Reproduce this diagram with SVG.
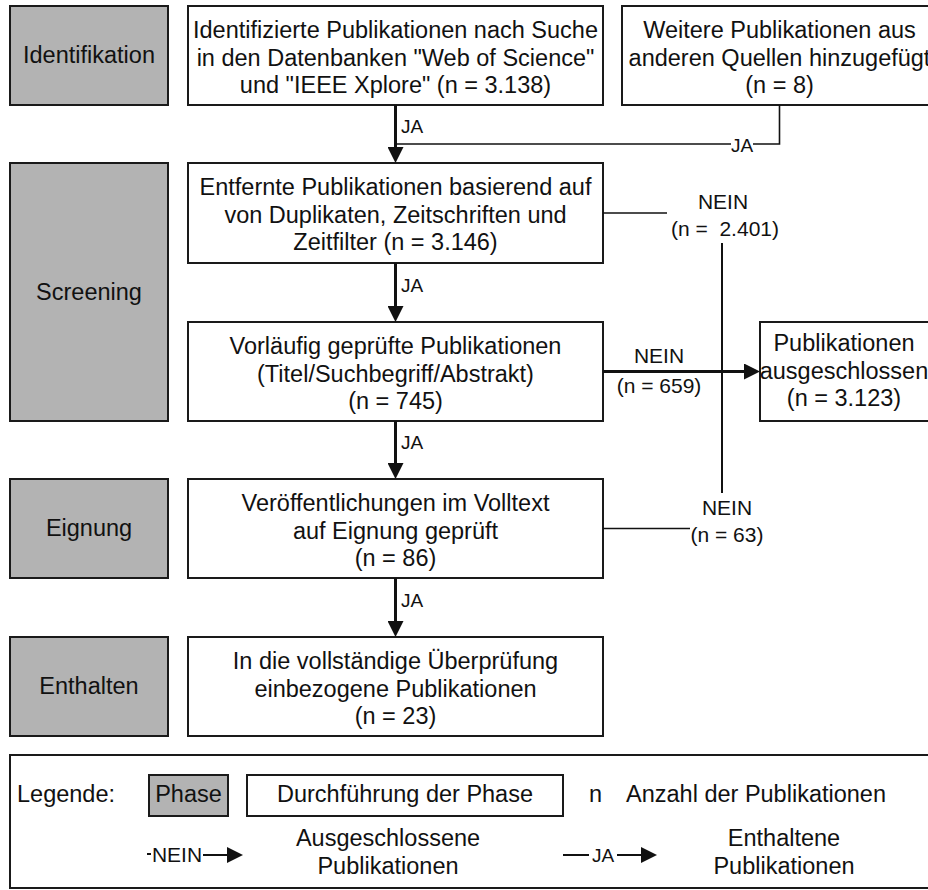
<svg xmlns="http://www.w3.org/2000/svg" width="928" height="890" viewBox="0 0 928 890">
<style>
.box{fill:#fff;stroke:#1a1a1a;stroke-width:2}
.phase{fill:#b3b3b3;stroke:#1a1a1a;stroke-width:2}
text{font-family:"Liberation Sans",Arial,Helvetica,sans-serif;fill:#111}
.t{font-size:23.5px;text-anchor:middle}
.tl{font-size:23.5px;text-anchor:start}
.lbl{font-size:21px;text-anchor:middle}
.ja{font-size:19px;text-anchor:start}
.jam{font-size:19px;text-anchor:middle}
.thick{stroke:#111;stroke-width:3;fill:none}
.thin{stroke:#111;stroke-width:1.6;fill:none}
.mid{stroke:#111;stroke-width:2;fill:none}
</style>
<defs>
<marker id="ah" markerUnits="userSpaceOnUse" markerWidth="16" markerHeight="16" refX="2" refY="8" orient="auto">
<path d="M0,0 L16,8 L0,16 Z" fill="#111"/>
</marker>
</defs>
<rect x="0" y="0" width="928" height="890" fill="#fff"/>

<g id="phase-identifikation"><rect class="phase" x="10" y="6" width="158" height="99"/><text class="t" x="89" y="63">Identifikation</text></g>
<g id="phase-screening"><rect class="phase" x="10" y="163" width="158" height="258"/><text class="t" x="89" y="300">Screening</text></g>
<g id="phase-eignung"><rect class="phase" x="10" y="479" width="158" height="99"/><text class="t" x="89" y="536">Eignung</text></g>
<g id="phase-enthalten"><rect class="phase" x="10" y="637" width="158" height="99"/><text class="t" x="89" y="694">Enthalten</text></g>

<g id="box-identifiziert"><rect class="box" x="188" y="6" width="415" height="99"/>
<text class="t" x="395.5" y="38">Identifizierte Publikationen nach Suche</text>
<text class="t" x="395.5" y="65.5">in den Datenbanken "Web of Science"</text>
<text class="t" x="395.5" y="93">und "IEEE Xplore" (n = 3.138)</text></g>

<g id="box-weitere"><rect class="box" x="622" y="6" width="320" height="99"/>
<text class="t" x="779.5" y="38">Weitere Publikationen aus</text>
<text class="t" x="779.5" y="65.5">anderen Quellen hinzugefügt</text>
<text class="t" x="779.5" y="93">(n = 8)</text></g>

<g id="box-entfernt"><rect class="box" x="188" y="163" width="415" height="100"/>
<text class="t" x="395.5" y="195">Entfernte Publikationen basierend auf</text>
<text class="t" x="395.5" y="222.5">von Duplikaten, Zeitschriften und</text>
<text class="t" x="395.5" y="250">Zeitfilter (n = 3.146)</text></g>

<g id="box-vorlaeufig"><rect class="box" x="188" y="322" width="415" height="99"/>
<text class="t" x="395.5" y="354">Vorläufig geprüfte Publikationen</text>
<text class="t" x="395.5" y="381.5">(Titel/Suchbegriff/Abstrakt)</text>
<text class="t" x="395.5" y="409">(n = 745)</text></g>

<g id="box-ausgeschlossen"><rect class="box" x="760" y="322" width="180" height="99"/>
<text class="t" x="844" y="351">Publikationen</text>
<text class="t" x="844" y="378.5">ausgeschlossen</text>
<text class="t" x="844" y="406">(n = 3.123)</text></g>

<g id="box-volltext"><rect class="box" x="188" y="479" width="415" height="99"/>
<text class="t" x="395.5" y="511">Veröffentlichungen im Volltext</text>
<text class="t" x="395.5" y="538.5">auf Eignung geprüft</text>
<text class="t" x="395.5" y="566">(n = 86)</text></g>

<g id="box-einbezogen"><rect class="box" x="188" y="637" width="415" height="99"/>
<text class="t" x="395.5" y="669">In die vollständige Überprüfung</text>
<text class="t" x="395.5" y="696.5">einbezogene Publikationen</text>
<text class="t" x="395.5" y="724">(n = 23)</text></g>

<g id="connectors">
<line class="thick" x1="395.5" y1="105" x2="395.5" y2="149" marker-end="url(#ah)"/>
<text class="ja" x="401" y="133">JA</text>
<polyline class="thin" points="395.5,144 731,144"/>
<polyline class="thin" points="753,144 779.5,144 779.5,105"/>
<text class="jam" x="742" y="152">JA</text>

<line class="thick" x1="395.5" y1="263" x2="395.5" y2="308" marker-end="url(#ah)"/>
<text class="ja" x="401" y="292">JA</text>
<line class="thick" x1="395.5" y1="421" x2="395.5" y2="465" marker-end="url(#ah)"/>
<text class="ja" x="401" y="449">JA</text>
<line class="thick" x1="395.5" y1="578" x2="395.5" y2="623" marker-end="url(#ah)"/>
<text class="ja" x="401" y="607">JA</text>

<line class="thin" x1="603" y1="213" x2="667" y2="213"/>
<text class="lbl" x="723" y="209">NEIN</text>
<text class="lbl" x="725" y="236">(n =&#160; 2.401)</text>
<line class="mid" x1="722" y1="243" x2="722" y2="493"/>

<line class="thick" x1="603" y1="371.5" x2="746" y2="371.5" marker-end="url(#ah)"/>
<text class="lbl" x="659" y="363">NEIN</text>
<text class="lbl" x="659" y="393">(n = 659)</text>

<line class="thin" x1="603" y1="528.5" x2="690" y2="528.5"/>
<text class="lbl" x="727" y="515">NEIN</text>
<text class="lbl" x="727" y="542">(n = 63)</text>
</g>

<g id="legend">
<rect class="box" x="10" y="755" width="935" height="133"/>
<text class="tl" x="17" y="802">Legende:</text>
<rect class="phase" x="149" y="775" width="79" height="41"/>
<text class="t" x="188.5" y="802">Phase</text>
<rect class="box" x="247" y="775" width="316" height="41"/>
<text class="t" x="405" y="802">Durchführung der Phase</text>
<text class="tl" x="589" y="802">n</text>
<text class="tl" x="626" y="802">Anzahl der Publikationen</text>
<line class="mid" x1="147" y1="854" x2="151" y2="854"/>
<text class="lbl" x="177" y="862">NEIN</text>
<line class="mid" x1="203" y1="855" x2="229" y2="855" marker-end="url(#ah)"/>
<text class="t" x="388" y="846">Ausgeschlossene</text>
<text class="t" x="388" y="874">Publikationen</text>
<line class="mid" x1="563" y1="855" x2="589" y2="855"/>
<text class="jam" x="603" y="862">JA</text>
<line class="mid" x1="617" y1="855" x2="643" y2="855" marker-end="url(#ah)"/>
<text class="t" x="784" y="846">Enthaltene</text>
<text class="t" x="784" y="874">Publikationen</text>
</g>
</svg>
